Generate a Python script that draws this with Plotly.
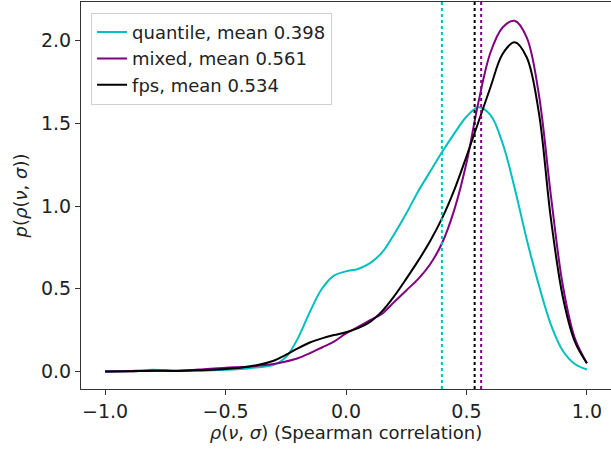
import plotly.graph_objects as go

# Spearman correlation grid
rho = [-1.0, -0.9, -0.8, -0.7, -0.6, -0.5, -0.4, -0.3, -0.25, -0.2, -0.15, -0.1, -0.05,
       0.0, 0.05, 0.1, 0.15, 0.2, 0.25, 0.3, 0.35, 0.4, 0.45, 0.5, 0.55, 0.6, 0.65,
       0.7, 0.75, 0.8, 0.85, 0.9, 0.95, 1.0]

quantile_density = [0.0, 0.003, 0.01, 0.004, 0.005, 0.01, 0.02, 0.04, 0.085, 0.2, 0.36, 0.5, 0.58,
                    0.605, 0.62, 0.655, 0.72, 0.83, 0.955, 1.09, 1.21, 1.33, 1.44, 1.54, 1.598, 1.55, 1.38,
                    1.11, 0.80, 0.525, 0.285, 0.125, 0.045, 0.012]

mixed_density = [0.0, 0.002, 0.005, 0.005, 0.012, 0.022, 0.03, 0.045, 0.06, 0.08, 0.11, 0.145, 0.18,
                 0.23, 0.27, 0.31, 0.35, 0.42, 0.49, 0.56, 0.65, 0.78, 0.98, 1.26, 1.63, 1.93, 2.08,
                 2.12, 2.02, 1.68, 1.07, 0.52, 0.2, 0.05]

fps_density = [0.0, 0.002, 0.005, 0.003, 0.008, 0.015, 0.03, 0.065, 0.1, 0.14, 0.175, 0.2, 0.22,
               0.237, 0.262, 0.3, 0.365, 0.455, 0.56, 0.67, 0.79, 0.93, 1.1, 1.3, 1.51, 1.72, 1.92,
               1.99, 1.9, 1.57, 0.93, 0.45, 0.18, 0.05]

series_names = ["quantile, mean 0.398", "mixed, mean 0.561", "fps, mean 0.534"]
series_means = [0.398, 0.561, 0.534]
series_colors = ["#00BFBF", "#800080", "#000000"]
series_values = [quantile_density, mixed_density, fps_density]

FONT = "DejaVu Sans"

fig = go.Figure()
for name, vals, col in zip(series_names, series_values, series_colors):
    fig.add_trace(go.Scatter(x=rho, y=vals, mode="lines", name=name,
                             line=dict(color=col, width=2, shape="spline", smoothing=1)))

for m, col in zip(series_means, series_colors):
    fig.add_vline(x=m, line=dict(color=col, width=2, dash="dot"))

fig.update_layout(
    width=611, height=454,
    margin=dict(l=81, r=0, t=2, b=65, autoexpand=False),
    paper_bgcolor="white", plot_bgcolor="white",
    font=dict(family=FONT, size=18, color="#222"),
    showlegend=True,
    legend=dict(x=0.019, y=0.972, xanchor="left", yanchor="top",
                bordercolor="#d0d0d0", borderwidth=1, bgcolor="rgba(255,255,255,0.8)",
                font=dict(family=FONT, size=18, color="#222"),
                tracegroupgap=0, itemwidth=30),
)
fig.update_xaxes(range=[-1.1, 1.1], tickvals=[-1.0, -0.5, 0.0, 0.5, 1.0], tickformat=".1f",
                 showgrid=False, zeroline=False, showline=True, linecolor="#333", linewidth=1,
                 mirror=True, ticks="outside", ticklen=5, tickcolor="#333", automargin=False,
                 tickfont=dict(size=19),
                 title=dict(text="<i>ρ</i>(<i>ν</i>, <i>σ</i>) (Spearman correlation)",
                            font=dict(family=FONT, size=18), standoff=4))
fig.update_yaxes(range=[-0.106, 2.234], tickvals=[0.0, 0.5, 1.0, 1.5, 2.0], tickformat=".1f",
                 showgrid=False, zeroline=False, showline=True, linecolor="#333", linewidth=1,
                 mirror=True, ticks="outside", ticklen=5, tickcolor="#333", automargin=False,
                 tickfont=dict(size=19),
                 title=dict(text="<i>p</i>(<i>ρ</i>(<i>ν</i>, <i>σ</i>))",
                            font=dict(family=FONT, size=18), standoff=8))

fig.write_html("out.html", config={"displayModeBar": False},
               post_script="document.body.style.margin='0px';")
